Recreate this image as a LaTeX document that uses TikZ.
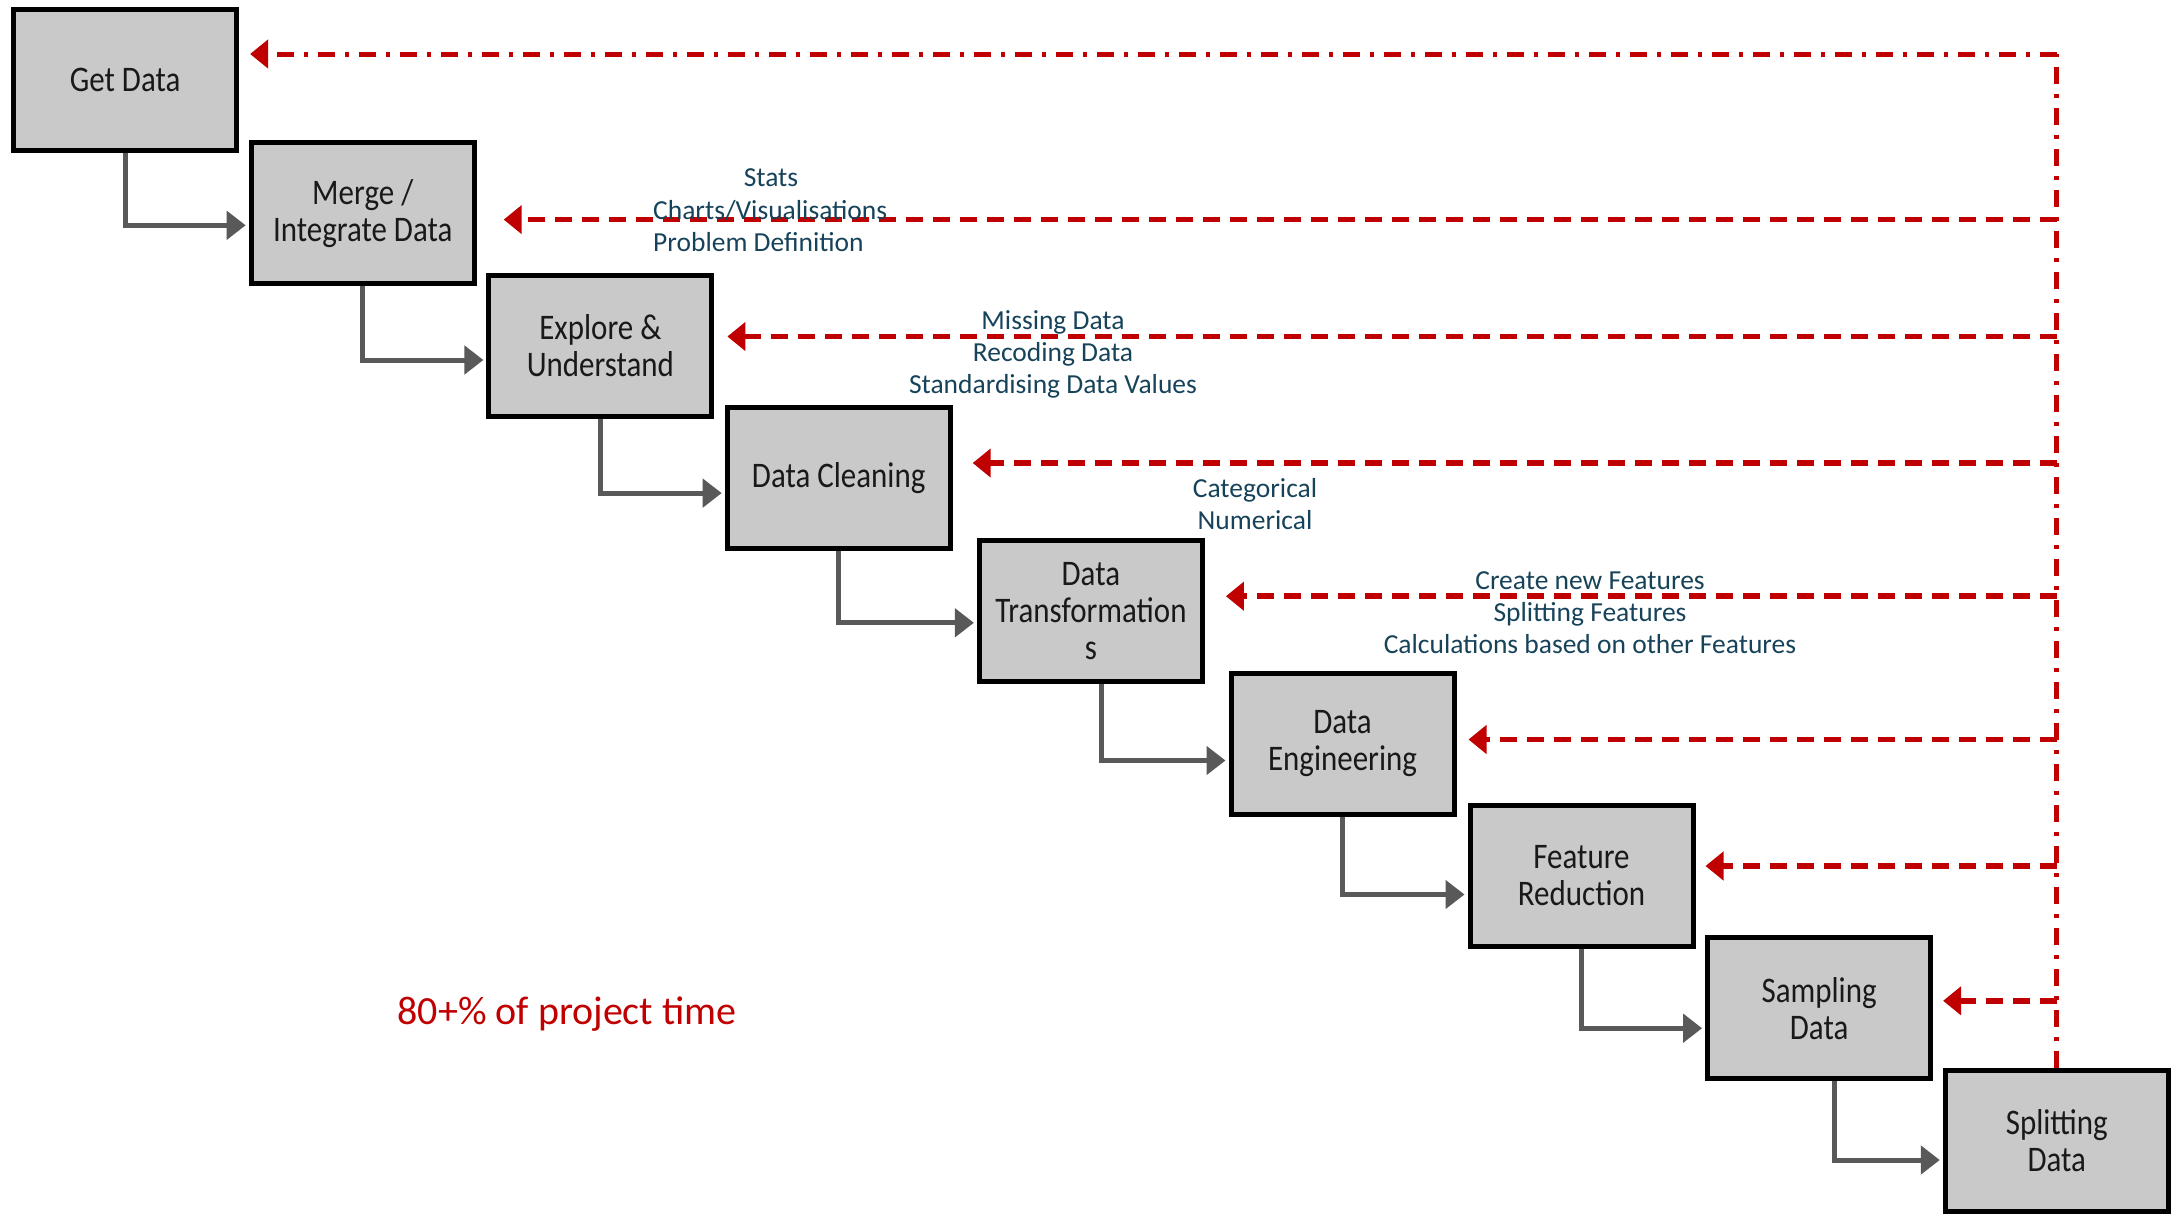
\documentclass[tikz,border=0pt]{standalone}
\usepackage{fontspec}
\setmainfont{Carlito}[FakeStretch=0.86]
\newfontfamily\notefont{Carlito}
\usetikzlibrary{arrows.meta,calc}
\definecolor{boxfill}{HTML}{C9C9C9}
\definecolor{flowgray}{HTML}{595959}
\definecolor{backred}{HTML}{C00000}
\definecolor{notecol}{HTML}{17435A}
\tikzset{
 stepbox/.style={draw=black, line width=5pt, fill=boxfill, minimum width=223pt, minimum height=141pt, inner sep=0pt, align=center, font=\fontsize{36}{37}\selectfont, text=black!90},
 flow/.style={draw=flowgray, line width=5pt, -{Triangle[length=19pt,width=28pt]}},
 back/.style={draw=backred, line width=5.5pt, dash pattern=on 17pt off 10pt, -{Triangle[length=18pt,width=28pt]}},
 backdd/.style={draw=backred, line width=5pt, dash pattern=on 17pt off 10pt on 4pt off 10pt},
 note/.style={text=notecol, font=\notefont\fontsize{27.5}{32}\selectfont, inner sep=0pt},
}
\begin{document}
\begin{tikzpicture}[x=1pt,y=-1pt]
\useasboundingbox (0,0) rectangle (2179,1213);
% boxes
\node[stepbox] (b1) at (125.1,79.9) {Get Data};
\node[stepbox] (b2) at (362.7,213.3) {Merge /\\Integrate Data};
\node[stepbox] (b3) at (600.4,346.0) {Explore \&\\Understand};
\node[stepbox] (b4) at (838.7,478.1) {Data Cleaning};
\node[stepbox] (b5) at (1090.9,610.8) {Data\\Transformation\\s};
\node[stepbox] (b6) at (1342.5,743.5) {Data\\Engineering};
\node[stepbox] (b7) at (1581.5,875.5) {Feature\\Reduction};
\node[stepbox] (b8) at (1819.1,1008.2) {Sampling\\Data};
\node[stepbox] (b9) at (2056.8,1141.0) {Splitting\\Data};
% forward flow
\draw[flow] (b1.south) |- ($(b2.west)+(-3,12)$);
\draw[flow] (b2.south) |- ($(b3.west)+(-3,14)$);
\draw[flow] (b3.south) |- ($(b4.west)+(-3,15)$);
\draw[flow] (b4.south) |- ($(b5.west)+(-3,12)$);
\draw[flow] ($(b5.south)+(11,0)$) |- ($(b6.west)+(-3,17)$);
\draw[flow] (b6.south) |- ($(b7.west)+(-3,19)$);
\draw[flow] (b7.south) |- ($(b8.west)+(-3,20)$);
\draw[flow] ($(b8.south)+(15,0)$) |- ($(b9.west)+(-3,19)$);
% feedback junctions
\coordinate (j1) at (2056.8,54);
\coordinate (j2) at (2056.8,219.6);
\coordinate (j3) at (2056.8,336.5);
\coordinate (j4) at (2056.8,463);
\coordinate (j5) at (2056.8,596.2);
\coordinate (j6) at (2056.8,739.5);
\coordinate (j7) at (2056.8,866);
\coordinate (j8) at (2056.8,1000.8);
\draw[backdd] (b9.north) -- (j1);
\draw[backdd,-{Triangle[length=18pt,width=28pt]}] (j1) -- ($(b1.east |- j1)+(11,0)$);
\draw[back] (j2) -- ($(b2.east |- j2)+(27,0)$);
\draw[back] (j3) -- ($(b3.east |- j3)+(13,0)$);
\draw[back] (j4) -- ($(b4.east |- j4)+(20,0)$);
\draw[back] (j5) -- ($(b5.east |- j5)+(21,0)$);
\draw[back] (j6) -- ($(b6.east |- j6)+(12,0)$);
\draw[back] (j7) -- ($(b7.east |- j7)+(10,0)$);
\draw[back] (j8) -- ($(b8.east |- j8)+(10,0)$);
% notes
\node[note] (n1) at (771,178) {Stats};
\node[note, align=left, anchor=west] (n2) at (653,226) {Charts/Visualisations\\Problem Definition};
\node[note, align=center] (n3) at (1053,354) {Missing Data\\Recoding Data\\Standardising Data Values};
\node[note, align=center] (n4) at (1255,504) {Categorical\\Numerical};
\node[note, align=center] (n5) at (1590,613) {Create new Features\\Splitting Features\\Calculations based on other Features};
\node[text=backred, font=\notefont\fontsize{40}{46}\selectfont, inner sep=0pt] (pct) at (567,1014) {80+\% of project time};
\end{tikzpicture}
\end{document}
